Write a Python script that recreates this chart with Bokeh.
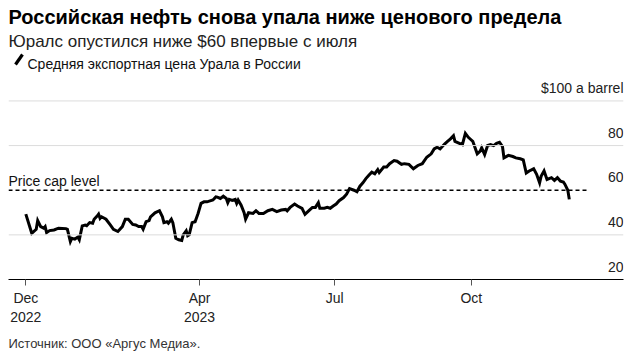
import pandas as pd
from bokeh.plotting import figure
from bokeh.models import Label, FixedTicker, Range1d, Arrow, Span, Title
from bokeh.embed import file_html
from bokeh.resources import INLINE

# ---- data ----
dates = [
    "2022-12-05", "2022-12-09", "2022-12-12", "2022-12-13", "2022-12-15", "2022-12-17",
    "2022-12-18", "2022-12-19", "2022-12-21", "2022-12-24", "2022-12-27", "2023-01-01",
    "2023-01-02", "2023-01-04", "2023-01-05", "2023-01-07", "2023-01-09", "2023-01-10",
    "2023-01-12", "2023-01-14", "2023-01-15", "2023-01-17", "2023-01-19", "2023-01-20",
    "2023-01-22", "2023-01-23", "2023-01-24", "2023-01-25", "2023-01-28", "2023-01-31",
    "2023-02-02", "2023-02-05", "2023-02-08", "2023-02-10", "2023-02-12", "2023-02-15",
    "2023-02-17", "2023-02-19", "2023-02-21", "2023-02-22", "2023-02-24", "2023-02-26",
    "2023-02-27", "2023-03-02", "2023-03-05", "2023-03-07", "2023-03-08", "2023-03-10",
    "2023-03-11", "2023-03-13", "2023-03-14", "2023-03-16", "2023-03-18", "2023-03-20",
    "2023-03-21", "2023-03-23", "2023-03-24", "2023-03-25", "2023-03-27", "2023-03-29",
    "2023-03-31", "2023-04-02", "2023-04-04", "2023-04-06", "2023-04-10", "2023-04-12",
    "2023-04-13", "2023-04-15", "2023-04-17", "2023-04-19", "2023-04-20", "2023-04-21",
    "2023-04-23", "2023-04-25", "2023-04-26", "2023-04-27", "2023-04-29", "2023-05-01",
    "2023-05-02", "2023-05-04", "2023-05-07", "2023-05-09", "2023-05-11", "2023-05-14",
    "2023-05-17", "2023-05-20", "2023-05-23", "2023-05-26", "2023-05-29", "2023-05-30",
    "2023-06-01", "2023-06-04", "2023-06-06", "2023-06-09", "2023-06-11", "2023-06-14",
    "2023-06-16", "2023-06-18", "2023-06-20", "2023-06-21", "2023-06-24", "2023-06-26",
    "2023-06-28", "2023-06-30", "2023-07-02", "2023-07-04", "2023-07-07", "2023-07-09",
    "2023-07-11", "2023-07-14", "2023-07-16", "2023-07-18", "2023-07-20", "2023-07-22",
    "2023-07-24", "2023-07-26", "2023-07-28", "2023-07-30", "2023-07-31", "2023-08-03",
    "2023-08-05", "2023-08-07", "2023-08-10", "2023-08-12", "2023-08-15", "2023-08-17",
    "2023-08-20", "2023-08-23", "2023-08-26", "2023-08-29", "2023-09-01", "2023-09-04",
    "2023-09-06", "2023-09-08", "2023-09-10", "2023-09-13", "2023-09-15", "2023-09-17",
    "2023-09-19", "2023-09-20", "2023-09-23", "2023-09-25", "2023-09-27", "2023-09-29",
    "2023-10-01", "2023-10-02", "2023-10-05", "2023-10-07", "2023-10-08", "2023-10-10",
    "2023-10-12", "2023-10-14", "2023-10-16", "2023-10-18", "2023-10-20", "2023-10-22",
    "2023-10-23", "2023-10-26", "2023-10-29", "2023-10-31", "2023-11-03", "2023-11-05",
    "2023-11-07", "2023-11-09", "2023-11-12", "2023-11-14", "2023-11-16", "2023-11-17",
    "2023-11-19", "2023-11-21", "2023-11-24", "2023-11-26", "2023-11-28", "2023-11-30",
    "2023-12-02", "2023-12-03", "2023-12-05", "2023-12-06",
]
prices = [
    49.3, 40.7, 42.5, 46.4, 43.7, 43.0,
    43.7, 41.0, 41.9, 42.2, 43.0, 42.8,
    42.5, 37.0, 38.5, 38.1, 39.0, 37.8,
    44.0, 44.4, 44.1, 45.5, 45.2, 47.0,
    48.4, 49.3, 47.4, 48.1, 47.0, 44.4,
    42.5, 41.5, 43.7, 47.0, 47.0, 44.7,
    44.4, 43.7, 43.7, 42.5, 45.9, 46.4,
    48.1, 49.9, 50.8, 48.1, 45.5, 45.9,
    45.2, 47.0, 45.5, 38.5, 37.8, 37.5,
    40.0, 41.8, 39.6, 40.0, 45.5, 45.9,
    49.6, 54.1, 54.8, 54.8, 55.6, 57.0,
    56.9, 56.3, 57.3, 56.3, 54.4, 55.9,
    55.4, 55.9, 54.1, 55.6, 53.3, 49.9,
    47.0, 49.9, 49.6, 50.8, 49.6, 49.6,
    50.8, 51.4, 50.4, 51.1, 51.4, 50.8,
    52.3, 53.8, 52.9, 51.9, 49.2, 51.1,
    52.3, 52.3, 54.4, 51.9, 51.9, 52.3,
    51.9, 52.9, 53.8, 55.3, 56.7, 58.2,
    60.7, 60.0, 59.3, 61.8, 63.3, 65.2,
    66.7, 68.1, 67.4, 69.2, 67.9, 70.4,
    70.4, 71.9, 73.3, 73.0, 71.6, 71.9,
    71.6, 69.6, 71.1, 71.9, 74.8, 76.3,
    78.5, 79.3, 78.5, 80.7, 81.9, 83.0,
    84.4, 81.9, 81.0, 80.4, 85.5, 83.7,
    82.5, 81.9, 76.3, 77.5, 79.0, 76.0,
    80.0, 80.4, 80.0, 81.0, 81.5, 79.6,
    74.5, 75.6, 75.1, 74.5, 74.1, 73.6,
    67.7, 68.6, 69.6, 67.1, 63.3, 66.2,
    68.6, 64.8, 65.6, 64.4, 65.6, 64.1,
    63.7, 62.7, 60.0, 55.9,
]
price_cap = 60
cap_line_dates = ["2022-11-23 08:00", "2023-12-18 05:00"]
x_limits = ["2022-11-23 08:00", "2024-01-11 12:00"]
y_limits = [20, 145]          # headroom above $100 holds the heading texts
y_ticks = [20, 40, 60, 80, 100]
y_tick_labels = ["20", "40", "60", "80", "$100 a barrel"]
x_tick_dates = ["2022-12-05", "2023-04-01", "2023-07-01", "2023-10-01"]
x_tick_labels = ["Dec\n2022", "Apr\n2023", "Jul", "Oct"]

title = "Российская нефть снова упала ниже ценового предела"
subtitle = "Юралс опустился ниже $60 впервые с июля"
legend_label = "Средняя экспортная цена Урала в России"
cap_label = "Price cap level"
source_note = "Источник: ООО «Аргус Медиа»."

FONT = "Liberation Sans"


def ms(s):
    return int(pd.Timestamp(s).value // 10**6)


x_dt = pd.to_datetime(dates)

p = figure(
    width=634, height=356,
    x_axis_type="datetime", y_axis_location=None,
    x_range=Range1d(ms(x_limits[0]), ms(x_limits[1])),
    y_range=Range1d(y_limits[0], y_limits[1]),
    min_border_left=8, min_border_right=11,
    min_border_top=0, min_border_bottom=76,
    output_backend="svg", toolbar_location=None,
)
p.outline_line_color = None
p.background_fill_color = "white"
p.border_fill_color = "white"
p.xgrid.visible = False
p.ygrid.visible = False

# gridlines (not at axis line nor at cap line)
for v in y_ticks:
    if v in (y_limits[0], price_cap):
        continue
    p.add_layout(Span(location=v, dimension="width", line_color="#dcdcdc", line_width=1))

# x axis
ax = p.xaxis[0]
ax.ticker = FixedTicker(ticks=[ms(d) for d in x_tick_dates])
ax.major_label_overrides = {ms(d): lab for d, lab in zip(x_tick_dates, x_tick_labels)}
ax.axis_line_color = "black"
ax.axis_line_width = 1
ax.major_tick_line_color = "#555555"
ax.major_tick_out = 6
ax.major_tick_in = 0
ax.minor_tick_out = 0
ax.minor_tick_in = 0
ax.major_label_standoff = 4
ax.major_label_text_font = FONT
ax.major_label_text_font_size = "14px"
ax.major_label_text_color = "#222222"

# source note below the axis
p.add_layout(Title(text=source_note, align="left", text_font=FONT,
                   text_font_size="13px", text_font_style="normal",
                   text_color="#333333", standoff=12), "below")

# price cap dashed line
p.line(pd.to_datetime(cap_line_dates), [price_cap, price_cap],
       line_color="black", line_width=1.5, line_dash="4 3")

# series
p.line(x_dt, prices, line_color="black", line_width=3, line_join="miter")

# y tick labels
for v, lab in zip(y_ticks, y_tick_labels):
    p.add_layout(Label(x=ms(x_limits[1]), y=v, text=lab, text_align="right",
                       text_baseline="alphabetic", y_offset=13,
                       text_font=FONT, text_font_size="14px", text_color="#222222"))

p.add_layout(Label(x=ms(x_limits[0]), y=price_cap, text=cap_label, text_align="left",
                   text_baseline="alphabetic", y_offset=9,
                   text_font=FONT, text_font_size="14px", text_color="#111111"))

# header texts (screen units, measured from the plot frame's bottom-left)
p.add_layout(Label(x=0, y=263, x_units="screen", y_units="screen", text=title,
                   text_font=FONT, text_font_size="20px", text_font_style="bold",
                   text_baseline="alphabetic", text_color="#000000"))
p.add_layout(Label(x=0, y=238, x_units="screen", y_units="screen", text=subtitle,
                   text_font=FONT, text_font_size="17px",
                   text_baseline="alphabetic", text_color="#222222"))
p.add_layout(Label(x=19, y=216, x_units="screen", y_units="screen", text=legend_label,
                   text_font=FONT, text_font_size="14px",
                   text_baseline="alphabetic", text_color="#111111"))
p.add_layout(Arrow(x_start=7, y_start=215, x_end=14, y_end=225,
                   start_units="screen", end_units="screen",
                   start=None, end=None, line_color="black", line_width=3.2))

open("out.html", "w").write(file_html(p, INLINE))
